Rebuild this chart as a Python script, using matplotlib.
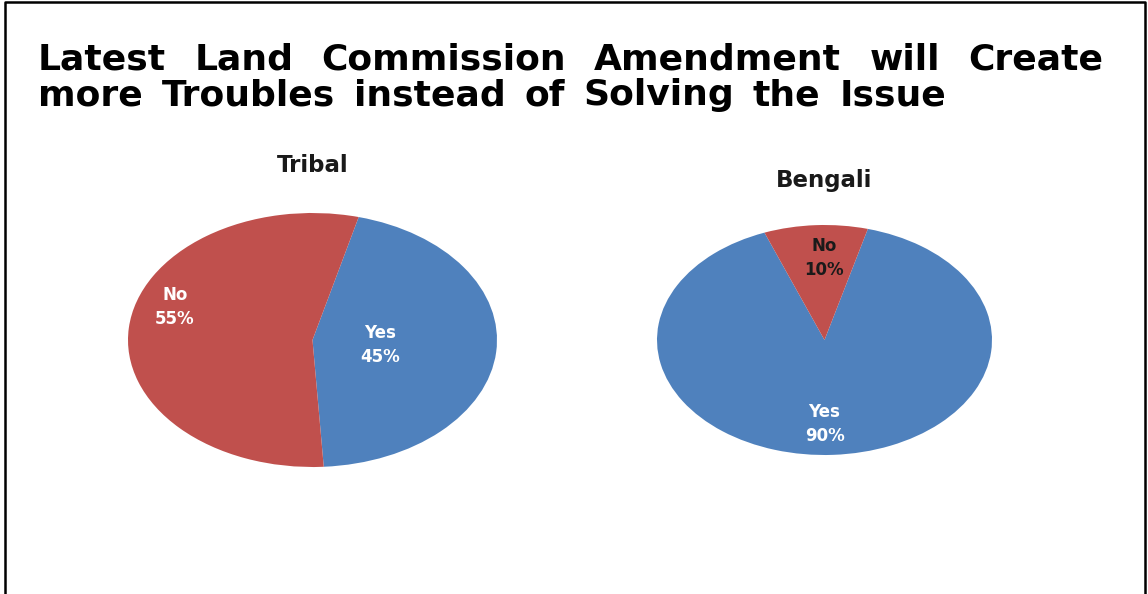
import matplotlib.pyplot as plt
from matplotlib.lines import Line2D

W, H = 1148, 594

title_lines = ["Latest Land Commission Amendment will Create",
               "more Troubles instead of Solving the Issue"]

answers = ["Yes", "No"]
tribal = [45, 55]
bengali = [90, 10]
colors = ["#4F81BD", "#C0504D"]
label_colors = {"Tribal": ["white", "white"], "Bengali": ["white", "#1a1a1a"]}

fig = plt.figure(figsize=(W / 100, H / 100), dpi=100)

# frame on left, top and right
fig.add_artist(Line2D([5 / W, 5 / W, 1145 / W, 1145 / W], [0, 1 - 2 / H, 1 - 2 / H, 0],
                      color="black", lw=1.8, transform=fig.transFigure))


def pie_panel(name, values, cx, cy, rx, ry, start, label_pos, title_y):
    pad = 1.04
    ax = fig.add_axes([(cx - rx * pad) / W, 1 - (cy + ry * pad) / H,
                       2 * rx * pad / W, 2 * ry * pad / H])
    ax.pie(values, colors=colors, startangle=start, counterclock=False,
           wedgeprops=dict(linewidth=0))
    # stretched pies, like the original slide
    ax.set_aspect("auto")
    ax.set_xlim(-pad, pad)
    ax.set_ylim(-pad, pad)
    for ans, val, (x, y), c in zip(answers, values, label_pos, label_colors[name]):
        ax.text(x, y, f"{ans}\n{val}%", ha="center", va="center", color=c,
                fontsize=12, fontweight="bold", linespacing=1.45)
    fig.text(cx / W, 1 - title_y / H, name, ha="center", va="center",
             fontsize=16.5, fontweight="bold", color="#1a1a1a")
    return ax


pie_panel("Tribal", tribal, 312.5, 340, 184.5, 127, 75.5,
          [(0.366, -0.04), (-0.745, 0.26)], 165)
pie_panel("Bengali", bengali, 824.5, 340, 167.5, 115, 75,
          [(0.0, -0.73), (0.0, 0.713)], 180)

# main title, each line spread out to its full width
fig.canvas.draw()
r = fig.canvas.get_renderer()
for line, base, right in zip(title_lines, [70, 105], [1103, 946]):
    words = line.split()
    texts = [fig.text(0, 1 - base / H, w, fontsize=26, fontweight="bold",
                      va="baseline", color="black") for w in words]
    widths = [t.get_window_extent(r).width for t in texts]
    gap = (right - 38 - sum(widths)) / (len(words) - 1)
    x = 38
    for t, w in zip(texts, widths):
        t.set_x(x / W)
        x += w + gap

fig.savefig("out.png", dpi=100)
